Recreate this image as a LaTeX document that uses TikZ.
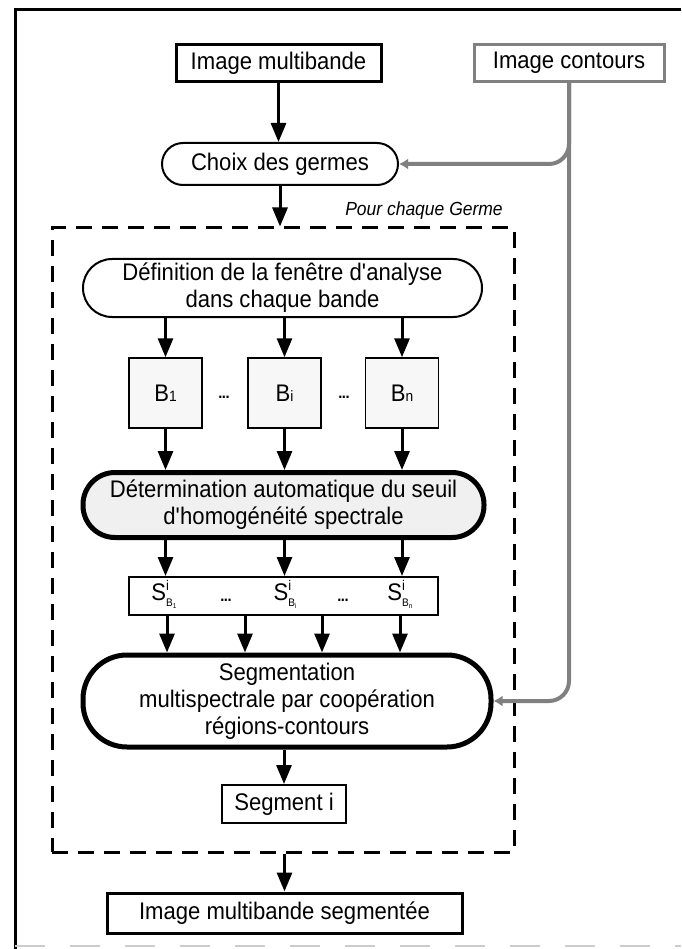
\documentclass[tikz,border=0pt]{standalone}
\usepackage{fontspec}
\setmainfont{Liberation Sans}[FakeStretch=0.92]
\usetikzlibrary{arrows.meta}
% small band index after B
\newcommand\bandidx[1]{{\fontsize{15}{15}\selectfont #1}}
% threshold label S^i_{B_k}
\newcommand\seuil[1]{S\rlap{\raisebox{10pt}{\fontsize{14}{14}\selectfont i}}\raisebox{-6pt}{\fontsize{11}{11}\selectfont B\raisebox{-2pt}{\fontsize{7}{7}\selectfont #1}}}
\newcommand\tdots{{\fontsize{16}{16}\selectfont\bfseries .\kern-0.5pt.\kern-0.5pt.}}
\begin{document}
\begin{tikzpicture}[x=1pt,y=-1pt,
  txt/.style={font=\fontsize{24}{27}\selectfont, align=center, inner sep=0pt},
  box/.style={txt, draw=black, fill=white, line width=2pt},
  heavybox/.style={box, line width=3pt},
  pill/.style={box, rounded corners=#1},
  arr/.style={line width=3pt, -{Triangle[length=19pt,width=15pt]}},
  graylink/.style={draw=black!50, line width=4pt, rounded corners=20pt, -{Latex[length=9pt,width=11pt]}},
  band/.style={box, line width=1.5pt, fill=gray!6, minimum width=73pt, minimum height=70pt},
]
\useasboundingbox (0,0) rectangle (681,949);

% outer frame
\draw[line width=3pt] (15,949) -- (15,10) -- (681,10);
\draw[gray!40, line width=1.5pt, dash pattern=on 30pt off 25pt] (15,946) -- (681,946);

% inputs
\node[heavybox, minimum width=205pt, minimum height=37pt] (imb) at (278.5,63) {Image multibande};
\node[heavybox, draw=black!50, minimum width=190pt, minimum height=37pt] (imc) at (569,63) {Image contours};
\node[pill=21pt, minimum width=236pt, minimum height=42pt] (choix) at (280,164) {Choix des germes};

% per-seed loop
\node[draw, line width=3pt, dash pattern=on 16pt off 10pt, minimum width=462pt, minimum height=624pt, inner sep=0pt] (loop) at (283,540) {};
\node[font=\fontsize{19}{20}\selectfont\itshape, inner sep=0pt] (pcg) at (424,211) {Pour chaque Germe};

\node[pill=29pt, minimum width=399pt, minimum height=58pt] (def) at (282.5,288) {Définition de la fenêtre d\textquotesingle analyse\\dans chaque bande};

\node[band] (b1) at (165.5,393) {B\bandidx{1}};
\node[band] (bi) at (284.5,393) {B\bandidx{i}};
\node[band] (bn) at (402,393) {B\bandidx{n}};
\node[txt] (db1) at (224,397) {\tdots};
\node[txt] (db2) at (344,397) {\tdots};

\node[pill=32pt, line width=5pt, fill=gray!12, minimum width=401pt, minimum height=65pt] (det) at (283.5,505) {Détermination automatique du seuil\\d\textquotesingle homogénéité spectrale};

\node[box, minimum width=309pt, minimum height=38pt] (sbox) at (283.5,596) {};
\node[txt] (s1) at (164,594) {\seuil{1}};
\node[txt] (si) at (285,594) {\seuil{i}};
\node[txt] (sn) at (400,594) {\seuil{n}};
\node[txt] (ds1) at (226,600) {\tdots};
\node[txt] (ds2) at (343,600) {\tdots};

\node[pill=44pt, line width=5pt, minimum width=408pt, minimum height=92pt] (seg) at (287,701) {Segmentation\\multispectrale par coopération\\régions-contours};
\node[box, minimum width=124pt, minimum height=38pt] (segi) at (284,804) {Segment i};

\node[heavybox, minimum width=355pt, minimum height=40pt] (final) at (284.5,913) {Image multibande segmentée};

% main flow
\draw[arr] (imb.south) -- (imb.south |- choix.north);
\draw[arr] (choix.south) -- (choix.south |- loop.north);
\foreach \b in {b1,bi,bn} {
  \draw[arr] (def.south -| \b) -- (\b.north);
  \draw[arr] (\b.south) -- (\b.south |- det.north);
  \draw[arr] (det.south -| \b) -- (sbox.north -| \b);
}
\coordinate (c1) at (167,0);
\coordinate (c2) at (245,0);
\coordinate (c3) at (322,0);
\coordinate (c4) at (400,0);
\foreach \c in {c1,c2,c3,c4}
  \draw[arr] (sbox.south -| \c) -- (seg.north -| \c);
\draw[arr] (seg.south -| segi) -- (segi.north);
\draw[arr] (loop.south -| final) -- (final.north);

% edge map feeding seed choice and segmentation
\draw[graylink] (imc.south) |- (seg.east);
\draw[graylink] (imc.south) |- (choix.east);
\end{tikzpicture}
\end{document}
